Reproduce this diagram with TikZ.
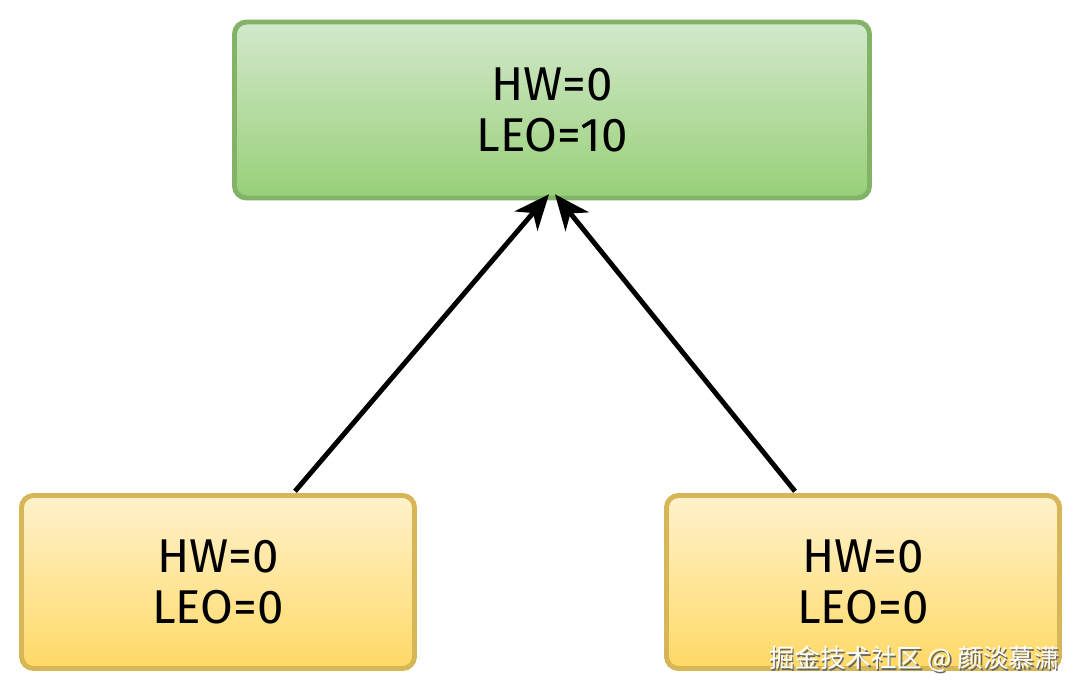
\documentclass[tikz,border=0pt]{standalone}
\usepackage{fontspec}
\setmainfont{Fira Sans}
\newfontfamily\cjk{Noto Sans CJK SC}
\usetikzlibrary{arrows.meta}
\definecolor{gfillA}{HTML}{D3E8CC}
\definecolor{gfillB}{HTML}{97D077}
\definecolor{gline}{HTML}{82B366}
\definecolor{yfillA}{HTML}{FFF2CC}
\definecolor{yfillB}{HTML}{FFD966}
\definecolor{yline}{HTML}{D6B656}
\tikzset{
  box/.style={rectangle, rounded corners=12*0.02cm, line width=2.8pt, align=center,
    font=\fontsize{27}{29.5}\selectfont, inner sep=0pt},
  greenbox/.style={box, draw=gline, top color=gfillA, bottom color=gfillB,
    minimum width=635*0.02cm, minimum height=176*0.02cm},
  yellowbox/.style={box, draw=yline, top color=yfillA, bottom color=yfillB,
    minimum width=393*0.02cm, minimum height=173*0.02cm},
  conn/.style={line width=2.8pt, -{Stealth[length=20pt, width=17pt, inset=6pt]}},
  wmtext/.style={anchor=east, font=\cjk\fontsize{14.5}{16}\selectfont, inner sep=0pt},
}
\begin{document}
\begin{tikzpicture}[x=0.02cm, y=-0.02cm]
\useasboundingbox (0,0) rectangle (1080,693);
\node[greenbox] (top) at (552,110) {HW=0\\LEO=10};
\node[yellowbox] (bl) at (218,582) {HW=0\\LEO=0};
\node[yellowbox] (br) at (863,582) {HW=0\\LEO=0};
\draw[conn] ([xshift=77*0.02cm, yshift=1pt]bl.north) -- ([xshift=-3*0.02cm, yshift=3.5pt]top.south);
\draw[conn] ([xshift=-68*0.02cm, yshift=1pt]br.north) -- ([xshift=3*0.02cm, yshift=3.5pt]top.south);
\node[wmtext, text=black!60] (wmshadow) at (1061.5,660.5) {掘金技术社区 @ 颜淡慕潇};
\node[wmtext, text=white] (wm) at (1060,659) {掘金技术社区 @ 颜淡慕潇};
\end{tikzpicture}
\end{document}
